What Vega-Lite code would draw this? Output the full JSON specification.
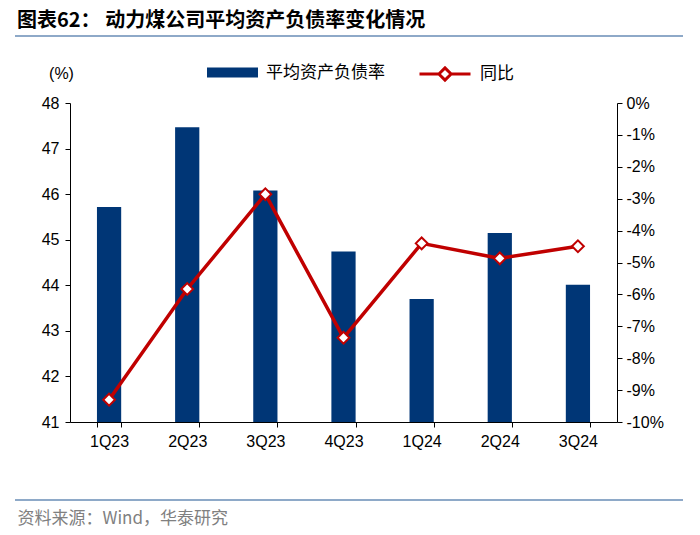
{
  "$schema": "https://vega.github.io/schema/vega-lite/v6.json",
  "width": 547,
  "height": 319,
  "autosize": {"type": "none"},
  "padding": {"left": 70, "top": 103, "right": 83, "bottom": 113},
  "background": "white",
  "config": {
    "view": {"stroke": null},
    "font": "Liberation Sans",
    "axis": {"grid": false, "domainColor": "#000000", "tickColor": "#000000", "labelColor": "#000000", "labelFontSize": 16, "labelFont": "Liberation Sans", "tickSize": 5, "domainWidth": 1, "tickWidth": 1}
  },
  "title": {
    "text": "图表62：  动力煤公司平均资产负债率变化情况",
    "anchor": "start",
    "frame": "group",
    "dx": -53,
    "offset": 4,
    "fontSize": 20,
    "font": "Noto Sans CJK SC",
    "fontWeight": "bold",
    "color": "#000000"
  },
  "data": {
    "values": [
      {"q": "1Q23", "ratio": 45.72, "yoy": -9.30},
      {"q": "2Q23", "ratio": 47.47, "yoy": -5.83},
      {"q": "3Q23", "ratio": 46.08, "yoy": -2.86},
      {"q": "4Q23", "ratio": 44.74, "yoy": -7.36},
      {"q": "1Q24", "ratio": 43.70, "yoy": -4.40},
      {"q": "2Q24", "ratio": 45.15, "yoy": -4.87},
      {"q": "3Q24", "ratio": 44.01, "yoy": -4.49}
    ]
  },
  "layer": [
    {
      "mark": {"type": "bar", "clip": true},
      "encoding": {
        "x": {
          "field": "q", "type": "nominal", "sort": null,
          "scale": {"paddingInner": 0.69, "paddingOuter": 0.345},
          "axis": {
            "labelAngle": 0, "tickBand": "extent", "labelPadding": 6,
            "title": "资料来源：Wind，华泰研究",
            "titleX": -53, "titleY": 96, "titleAlign": "left", "titleAnchor": null, "titleBaseline": "middle",
            "titleFont": "Noto Sans CJK SC", "titleFontSize": 17, "titleFontWeight": "normal", "titleColor": "#808080"
          }
        },
        "y": {
          "field": "ratio", "type": "quantitative",
          "scale": {"domain": [41, 48], "nice": false, "zero": false},
          "axis": {
            "values": [41, 42, 43, 44, 45, 46, 47, 48], "labelPadding": 6,
            "title": "(%)", "titleAngle": 0, "titleX": -9, "titleY": -30, "titleAlign": "center", "titleBaseline": "middle",
            "titleFont": "Liberation Sans", "titleFontSize": 16, "titleFontWeight": "normal", "titleColor": "#000000"
          }
        },
        "fill": {
          "datum": "平均资产负债率",
          "scale": {"range": ["#003676"]},
          "legend": {
            "orient": "none", "legendX": 137, "legendY": -56, "title": null,
            "symbolType": "M-1,-0.2H1V0.2H-1Z", "symbolSize": 2601, "symbolStrokeWidth": 0,
            "labelFontSize": 17, "labelFont": "Noto Sans CJK SC", "labelColor": "#000000", "labelOffset": 8
          }
        }
      }
    },
    {
      "mark": {"type": "line", "strokeWidth": 3.5, "point": {"shape": "diamond", "filled": true, "fill": "white", "stroke": "#C00000", "strokeWidth": 2, "size": 140}},
      "encoding": {
        "x": {"field": "q", "type": "nominal", "sort": null},
        "y": {
          "field": "yoy", "type": "quantitative",
          "scale": {"domain": [-10, 0], "nice": false},
          "axis": {"orient": "right", "values": [-10, -9, -8, -7, -6, -5, -4, -3, -2, -1, 0], "labelExpr": "datum.value + '%'", "title": null, "labelPadding": 4}
        },
        "stroke": {
          "datum": "同比",
          "scale": {"range": ["#C00000"]},
          "legend": {
            "orient": "none", "legendX": 348, "legendY": -56, "title": null,
            "symbolType": "M-1,0H-0.24M0.24,0H1M-0.24,0L0,-0.24L0.24,0L0,0.24Z", "symbolSize": 2601,
            "symbolStrokeWidth": 3, "symbolFillColor": "white", "symbolStrokeColor": "#C00000",
            "labelFontSize": 17, "labelFont": "Noto Sans CJK SC", "labelColor": "#000000", "labelOffset": 8
          }
        }
      }
    },
    {
      "data": {"values": [{}]},
      "mark": {"type": "rule", "color": "#8EA9C8", "strokeWidth": 2},
      "encoding": {"x": {"value": -55}, "x2": {"value": 613}, "y": {"value": -67}}
    },
    {
      "data": {"values": [{}]},
      "mark": {"type": "rule", "color": "#8EA9C8", "strokeWidth": 2},
      "encoding": {"x": {"value": -55}, "x2": {"value": 613}, "y": {"value": 397}}
    }
  ],
  "resolve": {"scale": {"y": "independent", "fill": "independent", "stroke": "independent"}, "axis": {"y": "independent"}}
}
